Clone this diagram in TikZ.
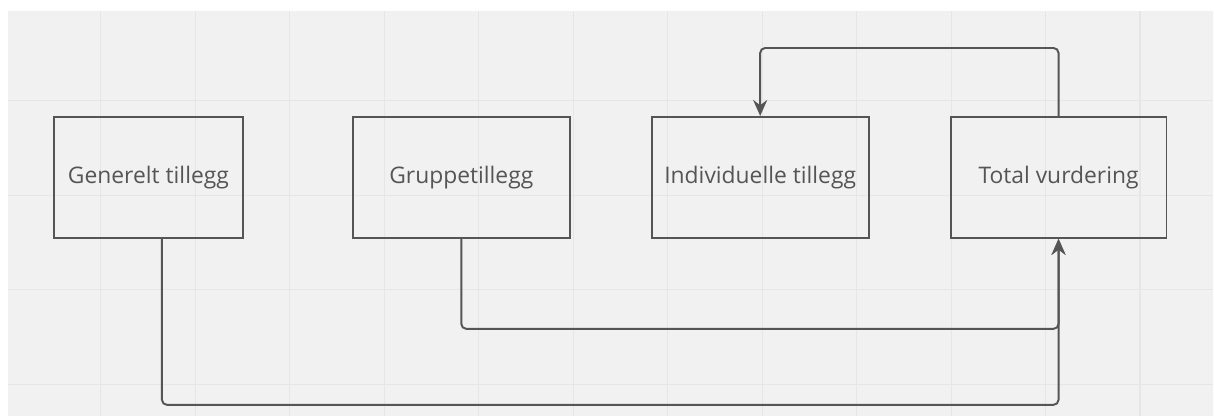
\documentclass[tikz,border=0pt]{standalone}
\usepackage{fontspec}
\setmainfont{Open Sans}
\usetikzlibrary{arrows.meta,calc,positioning}
\definecolor{canvas}{HTML}{F1F1F1}
\definecolor{gridline}{HTML}{E6E6E6}
\definecolor{boxline}{HTML}{555555}
\definecolor{boxtext}{HTML}{555555}
\tikzset{
  tillegg/.style={draw=boxline,line width=1.1pt,minimum height=2.42cm,inner sep=0,
    font=\fontsize{13}{15}\selectfont,text=boxtext},
  link/.style={draw=boxline,line width=1.1pt,rounded corners=1mm,-{Stealth[length=3.2mm,width=2.8mm]}}
}

\begin{document}
\begin{tikzpicture}[x=0.02cm,y=-0.02cm]
  % background and grid
  \fill[white] (0,0) rectangle (1214,416);
  \fill[canvas] (8,11) rectangle (1214,416);
  \foreach \g in {101,195.5,...,1200} {
    \draw[gridline,line width=0.6pt] (\g,11) -- (\g,416);
  }
  \foreach \g in {101,195.5,290,384.5} {
    \draw[gridline,line width=0.6pt] (8,\g) -- (1214,\g);
  }
  % boxes
  \node[tillegg,minimum width=3.78cm] (gen) at (148.5,177.5) {Generelt tillegg};
  \node[tillegg,minimum width=4.34cm] (grp) at (461.5,177.5) {Gruppetillegg};
  \node[tillegg,minimum width=4.34cm] (ind) at (760.5,177.5) {Individuelle tillegg};
  \node[tillegg,minimum width=4.32cm] (tot) at (1059,177.5) {Total vurdering};
  % connectors
  \coordinate (high) at (0,48);
  \coordinate (mid)  at (0,329);
  \coordinate (low)  at (0,405);
  \draw[link] ($(gen.south)+(13.5,0)$) |- (low -| tot.south) -- (tot.south);
  \draw[link] (grp.south) |- (mid -| tot.south) -- (tot.south);
  \draw[link] (tot.north) |- (high -| ind.north) -- (ind.north);
\end{tikzpicture}
\end{document}
